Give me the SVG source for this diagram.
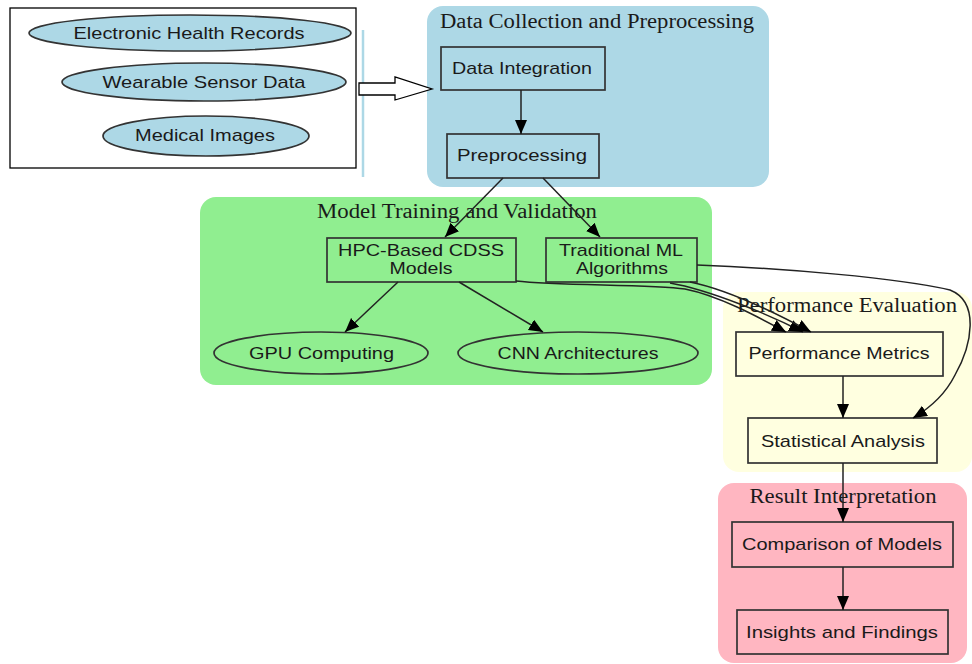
<svg xmlns="http://www.w3.org/2000/svg" width="972" height="664" viewBox="0 0 972 664">
<style>
.lbl{font-family:"Liberation Sans",Arial,sans-serif;font-size:17px;fill:#1a1a1a;text-anchor:middle}
.ttl{font-family:"Liberation Serif","Times New Roman",serif;font-size:20px;fill:#1a1a1a;text-anchor:middle}
.nd{stroke:#333;stroke-width:1.7}
.edge{fill:none;stroke:#222;stroke-width:1.5}
</style>
<defs>
<marker id="ah" markerUnits="userSpaceOnUse" markerWidth="16" markerHeight="14" refX="14" refY="6" orient="auto">
<path d="M0,0 L14,6 L0,12 z" fill="#000"/>
</marker>
</defs>
<rect width="972" height="664" fill="#fff"/>

<g id="sources">
<rect x="10" y="8" width="346" height="160" fill="#fff" stroke="#000" stroke-width="1.3"/>
<ellipse cx="190" cy="33" rx="161" ry="18" fill="#add8e6" class="nd"/>
<text class="lbl" x="189" y="39" textLength="231" lengthAdjust="spacingAndGlyphs">Electronic Health Records</text>
<ellipse cx="204" cy="82" rx="142" ry="19" fill="#add8e6" class="nd"/>
<text class="lbl" x="204" y="88" textLength="203" lengthAdjust="spacingAndGlyphs">Wearable Sensor Data</text>
<ellipse cx="206" cy="136" rx="103" ry="20" fill="#add8e6" class="nd"/>
<text class="lbl" x="205" y="141" textLength="140" lengthAdjust="spacingAndGlyphs">Medical Images</text>
</g>
<line x1="363" y1="30" x2="363" y2="177" stroke="#add8e6" stroke-width="2.5"/>

<g id="cluster_data">
<rect x="427" y="6" width="342" height="181" rx="16" fill="#add8e6"/>
<text class="ttl" x="597" y="28" textLength="314" lengthAdjust="spacingAndGlyphs">Data Collection and Preprocessing</text>
</g>
<g id="cluster_model">
<rect x="200" y="197" width="512" height="188" rx="16" fill="#90ee90"/>
<text class="ttl" x="457" y="218" textLength="280" lengthAdjust="spacingAndGlyphs">Model Training and Validation</text>
</g>
<g id="cluster_perf">
<rect x="723" y="292" width="249" height="180" rx="16" fill="#ffffe0"/>
<text class="ttl" x="847" y="312" textLength="220" lengthAdjust="spacingAndGlyphs">Performance Evaluation</text>
</g>
<g id="cluster_result">
<rect x="718" y="483" width="249" height="180" rx="16" fill="#ffb6c1"/>
<text class="ttl" x="843" y="503" textLength="187" lengthAdjust="spacingAndGlyphs">Result Interpretation</text>
</g>

<g id="data_integration">
<rect x="441" y="47" width="164" height="43" fill="none" class="nd"/>
<text class="lbl" x="522" y="74" textLength="140" lengthAdjust="spacingAndGlyphs">Data Integration</text>
</g>
<g id="preprocessing">
<rect x="447" y="134" width="152" height="44" fill="none" class="nd"/>
<text class="lbl" x="522" y="161" textLength="130" lengthAdjust="spacingAndGlyphs">Preprocessing</text>
</g>
<g id="hpc">
<rect x="327" y="238" width="189" height="44" fill="none" class="nd"/>
<text class="lbl" x="421" y="256" textLength="166" lengthAdjust="spacingAndGlyphs">HPC-Based CDSS</text>
<text class="lbl" x="421" y="274" textLength="63" lengthAdjust="spacingAndGlyphs">Models</text>
</g>
<g id="traditional">
<rect x="546" y="238" width="151" height="44" fill="none" class="nd"/>
<text class="lbl" x="621" y="256" textLength="124" lengthAdjust="spacingAndGlyphs">Traditional ML</text>
<text class="lbl" x="622" y="274" textLength="92" lengthAdjust="spacingAndGlyphs">Algorithms</text>
</g>
<g id="gpu">
<ellipse cx="321" cy="353" rx="107" ry="21" fill="none" class="nd"/>
<text class="lbl" x="321.5" y="359" textLength="145" lengthAdjust="spacingAndGlyphs">GPU Computing</text>
</g>
<g id="cnn">
<ellipse cx="578" cy="353" rx="120" ry="21" fill="none" class="nd"/>
<text class="lbl" x="578" y="359" textLength="161" lengthAdjust="spacingAndGlyphs">CNN Architectures</text>
</g>
<g id="perf_metrics">
<rect x="736" y="332" width="207" height="44" fill="none" class="nd"/>
<text class="lbl" x="839" y="359" textLength="181" lengthAdjust="spacingAndGlyphs">Performance Metrics</text>
</g>
<g id="stat_analysis">
<rect x="748" y="418" width="189" height="45" fill="none" class="nd"/>
<text class="lbl" x="843" y="447" textLength="164" lengthAdjust="spacingAndGlyphs">Statistical Analysis</text>
</g>
<g id="comparison">
<rect x="732" y="522" width="221" height="45" fill="none" class="nd"/>
<text class="lbl" x="842" y="550" textLength="200" lengthAdjust="spacingAndGlyphs">Comparison of Models</text>
</g>
<g id="insights">
<rect x="737" y="610" width="211" height="44" fill="none" class="nd"/>
<text class="lbl" x="842" y="638" textLength="192" lengthAdjust="spacingAndGlyphs">Insights and Findings</text>
</g>

<g id="connectors">
<polygon points="359,83 395,83 395,77 432,89 395,100 395,95 359,95" fill="#fff" stroke="#000" stroke-width="1.3"/>
<path class="edge" d="M521,90 L521,134" marker-end="url(#ah)"/>
<path class="edge" d="M503,178 L445,237" marker-end="url(#ah)"/>
<path class="edge" d="M543,178 L600,237" marker-end="url(#ah)"/>
<path class="edge" d="M398,282 L345,332" marker-end="url(#ah)"/>
<path class="edge" d="M459,282 L543,332" marker-end="url(#ah)"/>
<path class="edge" d="M516,281 C560,286 650,284 685,289 C720,296 760,318 786,332" marker-end="url(#ah)"/>
<path class="edge" d="M670,283 C710,290 770,315 803,332" marker-end="url(#ah)"/>
<path class="edge" d="M690,282 C730,290 785,318 811,332" marker-end="url(#ah)"/>
<path class="edge" d="M697,265 C780,268 900,278 950,290 C980,302 972,345 955,375 C945,395 930,408 913,418" marker-end="url(#ah)"/>
<path class="edge" d="M843,376 L843,418" marker-end="url(#ah)"/>
<path class="edge" d="M843,463 L843,522" marker-end="url(#ah)"/>
<path class="edge" d="M843,567 L843,610" marker-end="url(#ah)"/>
</g>
</svg>
